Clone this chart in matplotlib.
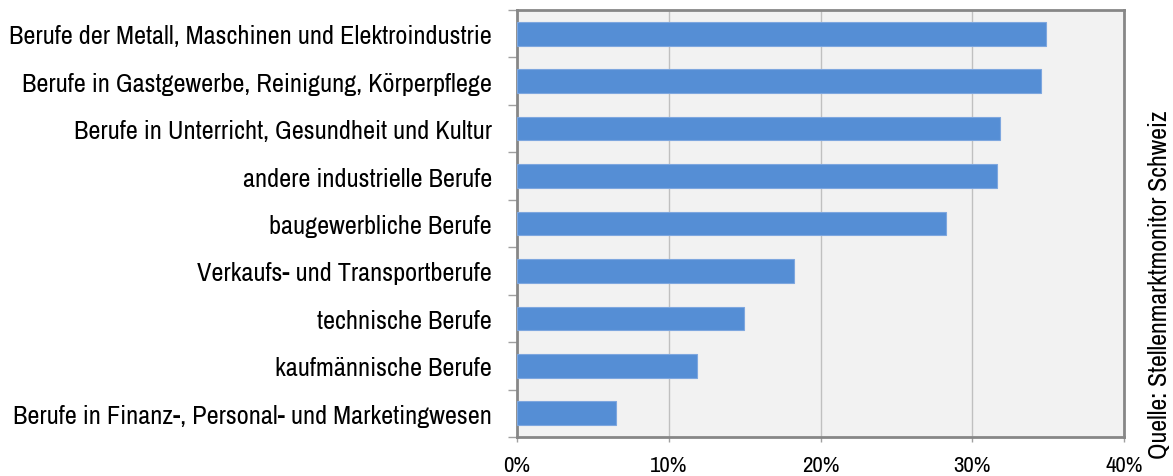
import matplotlib.pyplot as plt
import matplotlib.ticker as ticker
from matplotlib import font_manager

categories = [
    'Berufe der Metall, Maschinen und Elektroindustrie',
    'Berufe in Gastgewerbe, Reinigung, Körperpflege',
    'Berufe in Unterricht, Gesundheit und Kultur',
    'andere industrielle Berufe',
    'baugewerbliche Berufe',
    'Verkaufs- und Transportberufe',
    'technische Berufe',
    'kaufmännische Berufe',
    'Berufe in Finanz-, Personal- und Marketingwesen',
]
shares = [34.85, 34.55, 31.8, 31.6, 28.3, 18.25, 14.95, 11.85, 6.5]
xticks = [0, 10, 20, 30, 40]
source = 'Quelle: Stellenmarktmonitor Schweiz'

# narrow font if there is one, otherwise plain Liberation Sans
names = {f.name for f in font_manager.fontManager.ttflist}
if 'Liberation Sans Narrow' in names:
    fam = 'Liberation Sans Narrow'
else:
    narrow = [n for n in sorted(names) if 'Narrow' in n or 'Condensed' in n]
    fam = narrow[0] if narrow else 'Liberation Sans'
plt.rcParams['font.family'] = [fam, 'DejaVu Sans']

fig = plt.figure(figsize=(11.73, 4.77), dpi=100)
renderer = fig.canvas.get_renderer()


def fit_size(s, target_px):
    # font size that makes text s about target_px wide
    t = fig.text(0, 0, s, fontsize=10)
    w = t.get_window_extent(renderer).width
    t.remove()
    return 10 * target_px / w


fs = fit_size(categories[0], 484)
fs_x = fit_size('0%', 27)
fs_src = fit_size(source, 352)

ax = fig.add_axes([517 / 1173, 1 - 438 / 477, 607 / 1173, 427 / 477])
ax.set_facecolor('#f2f2f2')

y = list(range(len(categories)))
ax.barh(y, shares, height=0.5, color='#558ed5', edgecolor='#7ea7df', linewidth=0.8, zorder=3)
ax.set_ylim(len(categories) - 0.5, -0.5)
ax.set_xlim(0, 40)

ax.set_yticks(y)
ax.set_yticklabels(categories, fontsize=fs)
ax.yaxis.set_minor_locator(ticker.FixedLocator([i - 0.5 for i in range(len(categories) + 1)]))
ax.tick_params(axis='y', which='major', length=0, pad=18)
ax.tick_params(axis='y', which='minor', length=6.5, color='#a0a0a0', width=1)

ax.set_xticks(xticks)
ax.set_xticklabels([f'{v}%' for v in xticks], fontsize=fs_x)
ax.tick_params(axis='x', length=3.5, color='#a0a0a0', width=1, pad=9.5)
ax.grid(axis='x', color='#c0c0c0', linewidth=1, zorder=0)

for s in ax.spines.values():
    s.set_color('#878787')
    s.set_linewidth(2)

fig.text(1160 / 1173, 1 - 285 / 477, source, rotation=90, fontsize=fs_src,
         ha='center', va='center')

fig.savefig('out.png', dpi=100)
